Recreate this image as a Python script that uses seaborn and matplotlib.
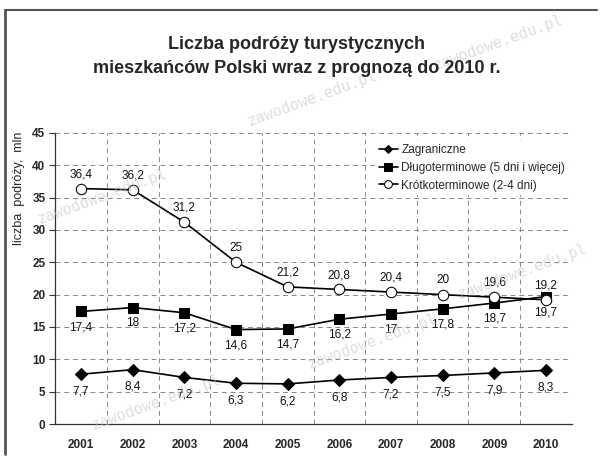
import numpy as np
import pandas as pd
import matplotlib
matplotlib.use("Agg")
import matplotlib.pyplot as plt
import seaborn as sns
from matplotlib.lines import Line2D

# Data
years = ["2001", "2002", "2003", "2004", "2005", "2006", "2007", "2008", "2009", "2010"]
zagraniczne = [7.7, 8.4, 7.2, 6.3, 6.2, 6.8, 7.2, 7.5, 7.9, 8.3]
dlugoterminowe = [17.4, 18, 17.2, 14.6, 14.7, 16.2, 17, 17.8, 18.7, 19.7]
krotkoterminowe = [36.4, 36.2, 31.2, 25, 21.2, 20.8, 20.4, 20, 19.6, 19.2]
series_names = ["Zagraniczne", "Długoterminowe (5 dni i więcej)", "Krótkoterminowe (2-4 dni)"]

sns.set_theme(style="white")
plt.rcParams["font.family"] = ["Liberation Sans", "DejaVu Sans"]

pos = np.arange(len(years))
df = pd.DataFrame({"pos": pos, "zag": zagraniczne, "dlu": dlugoterminowe, "kro": krotkoterminowe})

fig = plt.figure(figsize=(6, 4.68), dpi=100)
ax = fig.add_axes([0.092, 0.094, 0.861, 0.622])

sns.lineplot(data=df, x="pos", y="zag", ax=ax, color="black", lw=1.2, marker="D",
             markersize=6, markerfacecolor="black", markeredgecolor="black", label=series_names[0])
sns.lineplot(data=df, x="pos", y="dlu", ax=ax, color="black", lw=1.2, marker="s",
             markersize=7, markerfacecolor="black", markeredgecolor="black", label=series_names[1])
sns.lineplot(data=df, x="pos", y="kro", ax=ax, color="black", lw=1.2, marker="o",
             markersize=7.5, markerfacecolor="white", markeredgecolor="black", label=series_names[2])

def fmt(v):
    return ("%g" % v).replace(".", ",")

lab_kw = dict(ha="center", fontsize=8.5, color="#111111", textcoords="offset points")
for i in pos:
    ax.annotate(fmt(krotkoterminowe[i]), (i, krotkoterminowe[i]), xytext=(0, 6), va="bottom", **lab_kw)
    ax.annotate(fmt(dlugoterminowe[i]), (i, dlugoterminowe[i]), xytext=(0, -7), va="top", **lab_kw)
    ax.annotate(fmt(zagraniczne[i]), (i, zagraniczne[i]), xytext=(0, -8), va="top", **lab_kw)

ax.set_xlim(-0.5, 9.5)
ax.set_ylim(0, 45)
ax.set_xticks(pos)
ax.set_xticklabels(years, fontsize=8.5, fontweight="bold")
ax.set_xticks(np.arange(-0.5, 10, 1), minor=True)
ax.set_yticks(np.arange(0, 46, 5))
ax.set_yticklabels([str(v) for v in range(0, 46, 5)], fontsize=8.5, fontweight="bold")
ax.tick_params(axis="x", which="major", length=0, pad=11)
ax.tick_params(axis="x", which="minor", length=6, direction="inout", color="#333333", width=0.8)
ax.tick_params(axis="y", length=4, direction="out", color="#333333", width=0.8, left=True, pad=3)
ax.set_xlabel("")
ax.set_ylabel("")

ax.grid(True, which="minor", axis="x", linestyle=(0, (5, 4)), color="#888888", lw=0.7)
ax.grid(True, which="major", axis="y", linestyle=(0, (5, 4)), color="#888888", lw=0.7)
ax.grid(False, which="major", axis="x")
for s in ["top", "right"]:
    ax.spines[s].set_visible(False)
for s in ["left", "bottom"]:
    ax.spines[s].set_color("#333333")
    ax.spines[s].set_linewidth(0.9)

leg = ax.legend(loc="upper left", bbox_to_anchor=(0.62, 0.975), frameon=True, fontsize=8.5,
                handlelength=1.6, handletextpad=0.3, labelspacing=0.5, borderaxespad=0,
                borderpad=0.3, facecolor="white", edgecolor="none", framealpha=1, fancybox=False,
                markerscale=0.75)

fig.text(0.495, 0.904, "Liczba podróży turystycznych", ha="center", va="center",
         fontsize=13, fontweight="bold")
fig.text(0.495, 0.854, "mieszkańców Polski wraz z prognozą do 2010 r.", ha="center", va="center",
         fontsize=13, fontweight="bold")
fig.text(0.032, 0.598, "liczba  podróży,  mln", rotation=90, ha="center", va="center", fontsize=9)

# outer frame (scan edge)
fig.add_artist(Line2D([0.009, 0.009], [0.03, 0.978], transform=fig.transFigure, color="#555555", lw=2))
fig.add_artist(Line2D([0.009, 0.995], [0.978, 0.978], transform=fig.transFigure, color="#555555", lw=1.5))

# watermarks
wm = [(0.83, 0.91), (0.52, 0.79), (0.17, 0.58), (0.87, 0.42), (0.62, 0.27), (0.26, 0.14)]
for x, y in wm:
    fig.text(x, y, "zawodowe.edu.pl", rotation=20, ha="center", va="center", fontsize=11,
             family="DejaVu Sans Mono", color="#c4c4c4", alpha=0.55, zorder=0)

fig.savefig("out.png", dpi=100)
